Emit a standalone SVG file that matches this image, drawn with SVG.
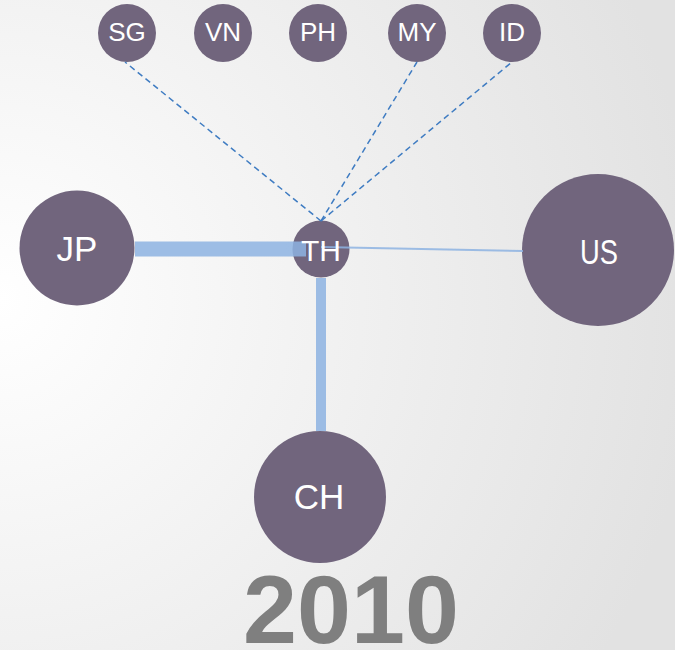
<svg xmlns="http://www.w3.org/2000/svg" width="675" height="650" viewBox="0 0 675 650">
<defs>
<radialGradient id="bg" cx="0" cy="300" r="700" gradientUnits="userSpaceOnUse">
<stop offset="0" stop-color="#ffffff"/>
<stop offset="1" stop-color="#e2e2e2"/>
</radialGradient>
<style>
.n{fill:#71657d}
.t{fill:#ffffff;font-family:"Liberation Sans",Arial,sans-serif;text-anchor:middle;dominant-baseline:central}
.s{font-size:26px}
.b{font-size:35px}
.e{stroke:#8db3e2;fill:none;opacity:0.85}
.d{stroke:#3f7cc2;stroke-width:1.5;stroke-dasharray:6,4;fill:none}
</style>
</defs>
<rect width="675" height="650" fill="url(#bg)"/>
<g id="node-SG"><circle class="n" cx="127" cy="33" r="29"/><text class="t s" x="127" y="32">SG</text></g>
<g id="node-VN"><circle class="n" cx="223" cy="33" r="29"/><text class="t s" x="223" y="32">VN</text></g>
<g id="node-PH"><circle class="n" cx="318" cy="33" r="29"/><text class="t s" x="318" y="32">PH</text></g>
<g id="node-MY"><circle class="n" cx="417" cy="33" r="29"/><text class="t s" x="417" y="32">MY</text></g>
<g id="node-ID"><circle class="n" cx="512" cy="33" r="29"/><text class="t s" x="512" y="32">ID</text></g>
<g id="node-JP"><circle class="n" cx="77" cy="248" r="57.5"/><text class="t b" x="77" y="248">JP</text></g>
<g id="node-US"><circle class="n" cx="598" cy="250" r="76"/><text class="t b" x="599" y="251" textLength="38" lengthAdjust="spacingAndGlyphs">US</text></g>
<g id="node-CH"><circle class="n" cx="320" cy="497" r="66"/><text class="t b" x="319" y="496">CH</text></g>
<g id="node-TH"><circle class="n" cx="321" cy="249" r="28.5"/></g>
<g id="connectors">
<line class="e" x1="135" y1="249" x2="306" y2="249" stroke-width="15"/>
<line class="e" x1="321" y1="278" x2="321" y2="431" stroke-width="10"/>
<line class="e" x1="321" y1="247" x2="523" y2="251" stroke-width="2"/>
<line class="d" x1="321" y1="221" x2="125" y2="62"/>
<line class="d" x1="321" y1="221" x2="417" y2="62"/>
<line class="d" x1="321" y1="221" x2="512" y2="62"/>
</g>
<text class="t" x="321" y="250" font-size="30">TH</text>
<text x="351" y="643" font-family="Liberation Sans,Arial,sans-serif" font-weight="bold" font-size="97" fill="#7f7f7f" text-anchor="middle">2010</text>
</svg>
